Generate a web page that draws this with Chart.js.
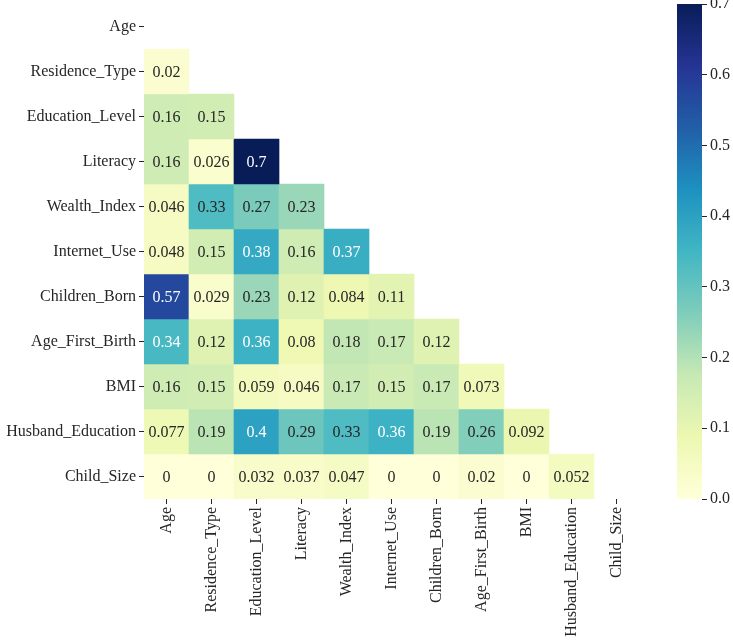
<!DOCTYPE html>
<html>
<head>
<meta charset="utf-8">
<script src="https://cdn.jsdelivr.net/npm/chart.js@4/dist/chart.umd.min.js"></script>
<style>
  html, body { margin: 0; padding: 0; background: #fff; }
  #wrap { position: relative; width: 733px; height: 644px; }
  #heatmap { position: absolute; left: 0; top: 0; }
  #colorbar { position: absolute; left: 660px; top: 0; }
</style>
</head>
<body>
<div id="wrap">
  <canvas id="heatmap" width="733" height="644"></canvas>
  <canvas id="colorbar" width="73" height="644"></canvas>
</div>
<script>
'use strict';

const variables = [
  'Age', 'Residence_Type', 'Education_Level', 'Literacy', 'Wealth_Index', 'Internet_Use',
  'Children_Born', 'Age_First_Birth', 'BMI', 'Husband_Education', 'Child_Size',
];

// lower triangle of the correlation matrix, one row per variable
const ageRow = [];
const residenceRow = [0.02];
const educationRow = [0.16, 0.15];
const literacyRow = [0.16, 0.026, 0.7];
const wealthRow = [0.046, 0.33, 0.27, 0.23];
const internetRow = [0.048, 0.15, 0.38, 0.16, 0.37];
const childrenRow = [0.57, 0.029, 0.23, 0.12, 0.084, 0.11];
const firstBirthRow = [0.34, 0.12, 0.36, 0.08, 0.18, 0.17, 0.12];
const bmiRow = [0.16, 0.15, 0.059, 0.046, 0.17, 0.15, 0.17, 0.073];
const husbandRow = [0.077, 0.19, 0.4, 0.29, 0.33, 0.36, 0.19, 0.26, 0.092];
const childSizeRow = [0, 0, 0.032, 0.037, 0.047, 0, 0, 0.02, 0, 0.052];

const colorbarTicks = [0, 0.1, 0.2, 0.3, 0.4, 0.5, 0.6, 0.7];

const rows = [ageRow, residenceRow, educationRow, literacyRow, wealthRow, internetRow,
  childrenRow, firstBirthRow, bmiRow, husbandRow, childSizeRow];

const vmin = 0;
const vmax = 0.7;
const FONT = "'Liberation Serif', 'Times New Roman', serif";

// YlGnBu
const ylGnBu = ['#ffffd9', '#edf8b1', '#c7e9b4', '#7fcdbb', '#41b6c4', '#1d91c0', '#225ea8', '#253494', '#081d58'];

function hexToRgb(hex) {
  const n = parseInt(hex.slice(1), 16);
  return [(n >> 16) & 255, (n >> 8) & 255, n & 255];
}

function colorRgb(value) {
  let t = (value - vmin) / (vmax - vmin);
  t = Math.max(0, Math.min(1, t));
  const pos = t * (ylGnBu.length - 1);
  const i = Math.min(Math.floor(pos), ylGnBu.length - 2);
  const f = pos - i;
  const a = hexToRgb(ylGnBu[i]);
  const b = hexToRgb(ylGnBu[i + 1]);
  return a.map((c, k) => Math.round(c + (b[k] - c) * f));
}

function colorFor(value) {
  const [r, g, b] = colorRgb(value);
  return `rgb(${r},${g},${b})`;
}

function textColorFor(value) {
  const lin = colorRgb(value).map((c) => {
    const s = c / 255;
    return s <= 0.03928 ? s / 12.92 : Math.pow((s + 0.055) / 1.055, 2.4);
  });
  const lum = 0.2126 * lin[0] + 0.7152 * lin[1] + 0.0722 * lin[2];
  return lum > 0.408 ? '#262626' : '#ffffff';
}

function formatValue(v) {
  return String(Number(v.toPrecision(2)));
}

const datasets = rows.map((row, i) => ({
  label: variables[i],
  data: row.map((v, j) => ({ x: variables[j], y: [i - 0.5, i + 0.5], v })),
  backgroundColor: (ctx) => (ctx.raw ? colorFor(ctx.raw.v) : '#fff'),
  borderWidth: 0,
  grouped: false,
  barPercentage: 1,
  categoryPercentage: 1,
}));

const cellLabels = {
  id: 'cellLabels',
  afterDatasetsDraw(chart) {
    const { ctx } = chart;
    ctx.save();
    ctx.font = `16px ${FONT}`;
    ctx.textAlign = 'center';
    ctx.textBaseline = 'middle';
    chart.data.datasets.forEach((ds, di) => {
      chart.getDatasetMeta(di).data.forEach((bar, k) => {
        const v = ds.data[k].v;
        const cy = (bar.y + bar.base) / 2;
        ctx.fillStyle = textColorFor(v);
        ctx.fillText(formatValue(v), bar.x, cy + 1);
      });
    });
    ctx.restore();
  },
};

new Chart(document.getElementById('heatmap'), {
  type: 'bar',
  data: { labels: variables, datasets },
  options: {
    responsive: false,
    animation: false,
    devicePixelRatio: 1,
    layout: { padding: { top: 4, right: 94, left: 0, bottom: 0 } },
    plugins: { legend: { display: false }, tooltip: { enabled: false } },
    scales: {
      x: {
        type: 'category',
        offset: true,
        grid: { offset: false, drawOnChartArea: false, drawTicks: true, tickLength: 5, color: '#262626' },
        border: { display: false },
        ticks: {
          autoSkip: false,
          minRotation: 90,
          maxRotation: 90,
          padding: 3,
          color: '#262626',
          font: { family: FONT, size: 16 },
        },
        afterFit: (scale) => {
          scale.height = 145;
          scale.paddingLeft = 0;
          scale.paddingRight = 0;
        },
      },
      y: {
        type: 'linear',
        reverse: true,
        min: -0.5,
        max: variables.length - 0.5,
        grid: { drawOnChartArea: false, drawTicks: true, tickLength: 5, color: '#262626' },
        border: { display: false },
        afterBuildTicks: (scale) => { scale.ticks = variables.map((_, i) => ({ value: i })); },
        ticks: {
          autoSkip: false,
          padding: 3,
          color: '#262626',
          font: { family: FONT, size: 16 },
          callback: (value) => variables[value],
        },
        afterFit: (scale) => {
          scale.width = 144;
          scale.paddingTop = 0;
          scale.paddingBottom = 0;
        },
      },
    },
  },
  plugins: [cellLabels],
});

function colorbarGradient(ctx) {
  const area = ctx.chart.chartArea;
  if (!area) return ylGnBu[0];
  const g = ctx.chart.ctx.createLinearGradient(0, area.bottom, 0, area.top);
  ylGnBu.forEach((c, i) => g.addColorStop(i / (ylGnBu.length - 1), c));
  return g;
}

new Chart(document.getElementById('colorbar'), {
  type: 'bar',
  data: {
    labels: ['colorbar'],
    datasets: [{
      data: [[vmin, vmax]],
      backgroundColor: colorbarGradient,
      borderWidth: 0,
      barPercentage: 1,
      categoryPercentage: 1,
    }],
  },
  options: {
    responsive: false,
    animation: false,
    devicePixelRatio: 1,
    layout: { padding: { top: 4, left: 17, right: 0, bottom: 145 } },
    plugins: { legend: { display: false }, tooltip: { enabled: false } },
    scales: {
      x: { display: false },
      y: {
        position: 'right',
        min: vmin,
        max: vmax,
        grid: { drawOnChartArea: false, drawTicks: true, tickLength: 5, color: '#262626' },
        border: { display: false },
        afterBuildTicks: (scale) => { scale.ticks = colorbarTicks.map((value) => ({ value })); },
        ticks: {
          padding: 3,
          color: '#262626',
          font: { family: FONT, size: 16 },
          callback: (value) => Number(value).toFixed(1),
        },
        afterFit: (scale) => {
          scale.width = 31;
          scale.paddingTop = 0;
          scale.paddingBottom = 0;
        },
      },
    },
  },
});
</script>
</body>
</html>
